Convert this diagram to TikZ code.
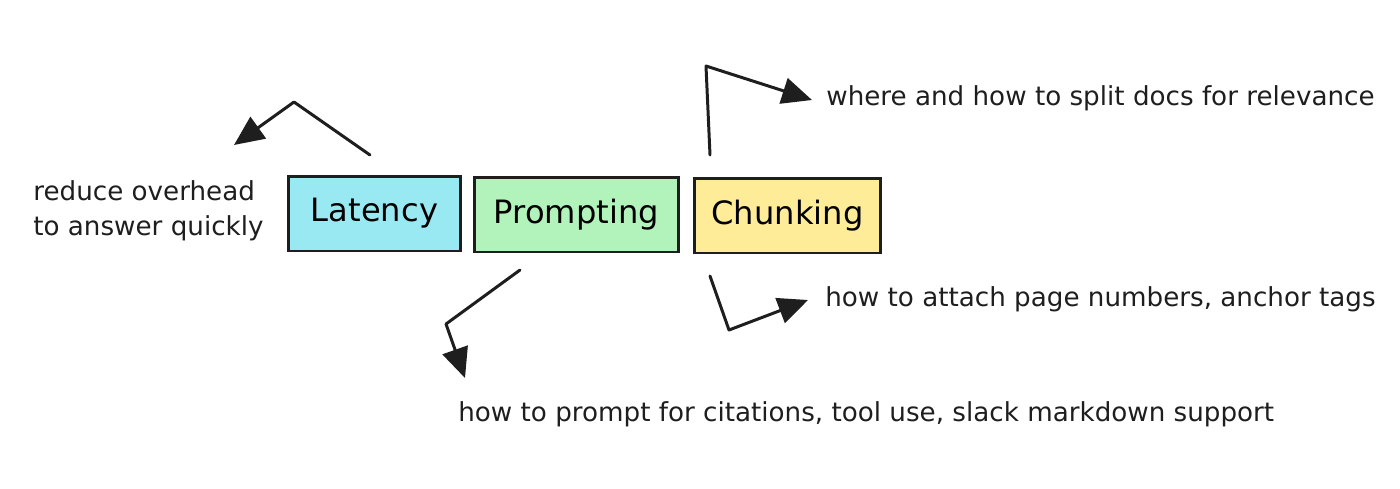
\documentclass[tikz,border=0pt]{standalone}
\usepackage{fontspec}
\setmainfont{DejaVu Sans}
\usetikzlibrary{arrows.meta}
\definecolor{ink}{HTML}{1E1E1E}
\definecolor{latfill}{HTML}{99E9F2}
\definecolor{prmfill}{HTML}{B2F2BB}
\definecolor{chkfill}{HTML}{FFEC99}
\begin{document}
\begin{tikzpicture}[x=0.02cm,y=-0.02cm,
    topic/.style={draw=ink,line width=1.7pt,minimum height=1.5cm,inner sep=0pt,
      font=\fontsize{18.3}{22}\selectfont},
    note/.style={anchor=base west,inner sep=0pt,text=ink,
      font=\fontsize{14.9}{20}\selectfont},
    arr/.style={draw=ink,line width=1.7pt,line cap=round,line join=round,
      -{Triangle[length=17pt,width=15pt]}}]
  \useasboundingbox (0,0) rectangle (1400,488);
  % the three topics
  \node[topic,fill=latfill,minimum width=3.46cm] (lat) at (374.5,213.5) {Latency};
  \node[topic,fill=prmfill,minimum width=4.1cm]  (prm) at (576.5,214.5) {Prompting};
  \node[topic,fill=chkfill,minimum width=3.74cm] (chk) at (787.5,215.5) {Chunking};
  % the notes
  \node[note] (latnote) at (33,200) {reduce overhead};
  \node[note] (latnote2) at (33,235) {to answer quickly};
  \node[note] (chknote) at (826,105) {where and how to split docs for relevance};
  \node[note] (chknote2) at (825,306) {how to attach page numbers, anchor tags};
  \node[note] (prmnote) at (458,421) {how to prompt for citations, tool use, slack markdown support};
  % bends and arrow ends
  \coordinate (lat0) at (370,155);
  \coordinate (latb) at (294,102);
  \coordinate (late) at (234,145);
  \coordinate (chk0) at (710,155);
  \coordinate (chkb) at (706,66);
  \coordinate (chke) at (812,100);
  \coordinate (chl0) at (710,276);
  \coordinate (chlb) at (729,330);
  \coordinate (chle) at (808,300);
  \coordinate (prm0) at (520,270);
  \coordinate (prmb) at (446,324);
  \coordinate (prme) at (465,378);
  % the arrows
  \draw[arr] (lat0) -- (latb) -- (late);
  \draw[arr] (chk0) -- (chkb) -- (chke);
  \draw[arr] (chl0) -- (chlb) -- (chle);
  \draw[arr] (prm0) -- (prmb) -- (prme);
\end{tikzpicture}
\end{document}
